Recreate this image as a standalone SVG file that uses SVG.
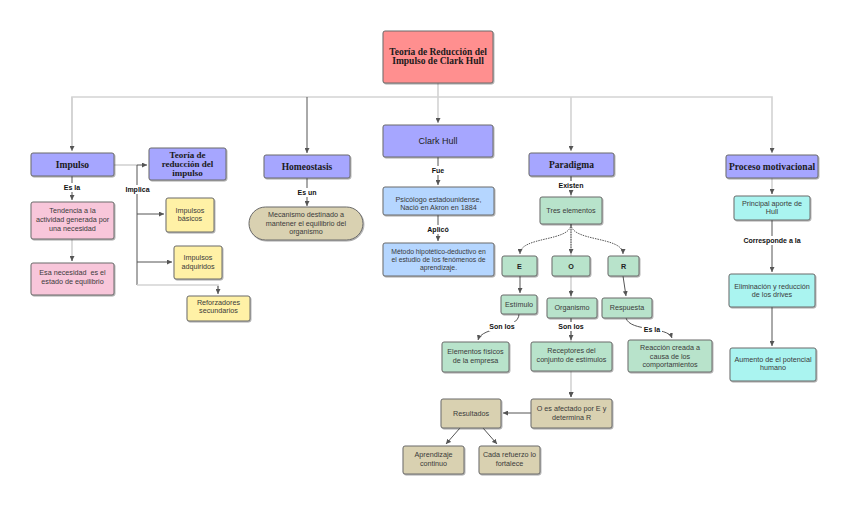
<svg xmlns="http://www.w3.org/2000/svg" width="848" height="515" viewBox="0 0 848 515">
<defs>
<marker id="ar" markerWidth="5" markerHeight="5" refX="5" refY="2.5" orient="auto" markerUnits="userSpaceOnUse">
<path d="M0,0 L5,2.5 L0,5 z" fill="#555"/>
</marker>
<filter id="sh" x="-10%" y="-10%" width="130%" height="140%">
<feDropShadow dx="0.8" dy="1" stdDeviation="0.7" flood-color="#000" flood-opacity="0.35"/>
</filter>
</defs>
<style>
.box{stroke:#6a6a6a;stroke-width:1;filter:url(#sh)}
.red{fill:#FF8F8F}.pur{fill:#A6A6FF}.pink{fill:#F8C6DA}.yel{fill:#FFF1A6}
.tan{fill:#D9D1B1}.blue{fill:#B5D6FF}.grn{fill:#B8E3CB}.cyan{fill:#AAF4F0}
.hd{font-family:"Liberation Serif",serif;font-weight:bold;font-size:9px;fill:#1a1a1a;text-anchor:middle}
.ch{font-family:"Liberation Sans",Arial,sans-serif;font-size:9px;fill:#222;text-anchor:middle}
.tx{font-family:"Liberation Sans",Arial,sans-serif;font-size:7.2px;fill:#3a3a3a;text-anchor:middle}
.bl{font-family:"Liberation Sans",Arial,sans-serif;font-size:7.2px;font-weight:bold;fill:#222;text-anchor:middle}
.lb{font-family:"Liberation Sans",Arial,sans-serif;font-size:7px;font-weight:bold;fill:#111;text-anchor:middle}
.lt{fill:none;stroke:#d3d3d3;stroke-width:1.6}
.dk{fill:none;stroke:#555;stroke-width:1}
.dt{fill:none;stroke:#555;stroke-width:1;stroke-dasharray:1.5,1}
.lbg{fill:#fff}
</style>

<g id="connectors">
<path class="lt" d="M72,151 V97 H772 V153" marker-end="url(#ar)"/>
<path class="lt" d="M72,97 V151" marker-end="url(#ar)"/>
<path class="lt" d="M438,83 V123" marker-end="url(#ar)"/>
<path class="lt" d="M571,97 V151" marker-end="url(#ar)"/>
<path class="lt" d="M571,176 V397" marker-end="url(#ar)"/>
<path class="dk" d="M307,97 V153" marker-end="url(#ar)"/>
<path class="lt" d="M114,165 H137"/>
<path class="dk" d="M137,165 H147" marker-end="url(#ar)"/>
<path class="dk" d="M72,176 V200" marker-end="url(#ar)"/>
<path class="lt" d="M72,239 V261"/>
<path class="dk" d="M72,256 V261" marker-end="url(#ar)"/>
<path class="dk" d="M137,165 V285"/>
<path class="dk" d="M137,214 H164" marker-end="url(#ar)"/>
<path class="dk" d="M137,262 H172" marker-end="url(#ar)"/>
<path class="lt" d="M137,285 H218 V290"/>
<path class="dk" d="M218,286 V294" marker-end="url(#ar)"/>
<path class="dk" d="M307,178 V206" marker-end="url(#ar)"/>
<path class="dk" d="M438,157 V185" marker-end="url(#ar)"/>
<path class="dk" d="M438,215 V241" marker-end="url(#ar)"/>
<path class="dk" d="M571,176 V195" marker-end="url(#ar)"/>
<path class="dt" d="M571,224 C571,242 520,236 520,254" marker-end="url(#ar)"/>
<path class="dt" d="M571,224 V254" marker-end="url(#ar)"/>
<path class="dt" d="M571,224 C571,242 623,236 623,254" marker-end="url(#ar)"/>
<path class="dk" d="M520,276 V293" marker-end="url(#ar)"/>
<path class="dk" d="M571,290 V296" marker-end="url(#ar)"/>
<path class="dk" d="M623,276 L626,296" marker-end="url(#ar)"/>
<path class="dk" d="M519,314 C519,330 482,326 478,340" marker-end="url(#ar)"/>
<path class="dk" d="M571,318 V340" marker-end="url(#ar)"/>
<path class="dk" d="M626,318 C630,332 668,326 672,338" marker-end="url(#ar)"/>
<path class="dk" d="M571,392 V397" marker-end="url(#ar)"/>
<path class="dk" d="M531,413 H503" marker-end="url(#ar)"/>
<path class="dk" d="M460,428 L446,444" marker-end="url(#ar)"/>
<path class="dk" d="M483,428 L497,444" marker-end="url(#ar)"/>
<path class="lt" d="M772,178 V194"/>
<path class="dk" d="M772,189 V194" marker-end="url(#ar)"/>
<path class="dk" d="M772,220 V272" marker-end="url(#ar)"/>
<path class="dk" d="M772,307 V346" marker-end="url(#ar)"/>
</g>

<g id="labels">
<rect class="lbg" x="62" y="183" width="20" height="9"/><text class="lb" x="72" y="190">Es la</text>
<rect class="lbg" x="124" y="185" width="27" height="9"/><text class="lb" x="137.5" y="191.5">Implica</text>
<rect class="lbg" x="296" y="188" width="22" height="9"/><text class="lb" x="307" y="195">Es un</text>
<rect class="lbg" x="430" y="166" width="16" height="9"/><text class="lb" x="438" y="172.5">Fue</text>
<rect class="lbg" x="427" y="225" width="22" height="9"/><text class="lb" x="438" y="231.8">Aplicó</text>
<rect class="lbg" x="557" y="181" width="28" height="9"/><text class="lb" x="571" y="187.5">Existen</text>
<rect class="lbg" x="489" y="322" width="26" height="9"/><text class="lb" x="502" y="329.2">Son los</text>
<rect class="lbg" x="558" y="322" width="26" height="9"/><text class="lb" x="571" y="329.2">Son los</text>
<rect class="lbg" x="642" y="325" width="20" height="9"/><text class="lb" x="652" y="331.5">Es la</text>
<rect class="lbg" x="741" y="236" width="62" height="9"/><text class="lb" x="772" y="243.2">Corresponde a la</text>
</g>

<g id="n-title"><rect class="box red" x="383" y="31" width="110" height="52" rx="2"/>
<text class="hd" style="font-size:9.5px" x="438" y="55.3">Teoría de Reducción del</text>
<text class="hd" style="font-size:9.5px" x="438" y="64">Impulso de Clark Hull</text></g>

<g id="n-impulso"><rect class="box pur" x="31" y="153" width="83" height="23" rx="2"/>
<text class="hd" style="font-size:9.5px" x="72.5" y="167.5">Impulso</text></g>

<g id="n-teoria"><rect class="box pur" x="149" y="148" width="77" height="32" rx="2"/>
<text class="hd" x="187.5" y="158">Teoría de</text>
<text class="hd" x="187.5" y="167">reducción del</text>
<text class="hd" x="187.5" y="175.5">impulso</text></g>

<g id="n-tendencia"><rect class="box pink" x="31" y="202" width="83" height="37" rx="2"/>
<text class="tx" x="72.5" y="213.3">Tendencia a la</text>
<text class="tx" x="72.5" y="222">actividad generada por</text>
<text class="tx" x="72.5" y="230.7">una necesidad</text></g>

<g id="n-esa"><rect class="box pink" x="31" y="263" width="83" height="32" rx="2"/>
<text class="tx" x="72.5" y="275" xml:space="preserve">Esa necesidad  es el</text>
<text class="tx" x="72.5" y="284.3">estado de equilibrio</text></g>

<g id="n-basicos"><rect class="box yel" x="166" y="198" width="48" height="34" rx="2"/>
<text class="tx" x="190" y="212.6">Impulsos</text>
<text class="tx" x="190" y="221">básicos</text></g>

<g id="n-adquiridos"><rect class="box yel" x="174" y="246" width="48" height="33" rx="2"/>
<text class="tx" x="198" y="260">Impulsos</text>
<text class="tx" x="198" y="268.6">adquiridos</text></g>

<g id="n-reforzadores"><rect class="box yel" x="187" y="296" width="63" height="25" rx="2"/>
<text class="tx" x="218.5" y="305">Reforzadores</text>
<text class="tx" x="218.5" y="313.3">secundarios</text></g>

<g id="n-homeostasis"><rect class="box pur" x="264" y="155" width="86" height="23" rx="2"/>
<text class="hd" style="font-size:9.5px" x="307" y="169.5">Homeostasis</text></g>

<g id="n-mecanismo"><rect class="box tan" x="249" y="207" width="114" height="33" rx="16.5"/>
<text class="tx" x="306" y="217.3">Mecanismo destinado a</text>
<text class="tx" x="306" y="225.7">mantener el equilibrio del</text>
<text class="tx" x="306" y="234">organismo</text></g>

<g id="n-clark"><rect class="box pur" x="383" y="125" width="110" height="32" rx="2"/>
<text class="ch" x="438" y="144">Clark Hull</text></g>

<g id="n-psicologo"><rect class="box blue" x="383" y="187" width="111" height="28" rx="2"/>
<text class="tx" x="438.5" y="201.6">Psicólogo estadounidense,</text>
<text class="tx" x="438.5" y="209.5">Nació en Akron en 1884</text></g>

<g id="n-metodo"><rect class="box blue" x="383" y="243" width="111" height="33" rx="2"/>
<text class="tx" style="font-size:6.8px" x="438.5" y="254.3">Método hipotético-deductivo en</text>
<text class="tx" style="font-size:6.8px" x="438.5" y="262.3">el estudio de los fenómenos de</text>
<text class="tx" style="font-size:6.8px" x="438.5" y="270.3">aprendizaje.</text></g>

<g id="n-paradigma"><rect class="box pur" x="529" y="153" width="85" height="23" rx="2"/>
<text class="hd" style="font-size:9.5px" x="571.5" y="167.5">Paradigma</text></g>

<g id="n-tres"><rect class="box grn" x="540" y="197" width="62" height="27" rx="2"/>
<text class="tx" x="571" y="213">Tres elementos</text></g>

<g id="n-e"><rect class="box grn" x="502" y="256" width="35" height="20" rx="2"/>
<text class="bl" x="519.5" y="268.5">E</text></g>
<g id="n-o"><rect class="box grn" x="552" y="256" width="38" height="20" rx="2"/>
<text class="bl" x="571" y="268.5">O</text></g>
<g id="n-r"><rect class="box grn" x="608" y="256" width="31" height="20" rx="2"/>
<text class="bl" x="623.5" y="268.5">R</text></g>

<g id="n-estimulo"><rect class="box grn" x="501" y="295" width="36" height="19" rx="2"/>
<text class="tx" x="519" y="306.6">Estímulo</text></g>
<g id="n-organismo"><rect class="box grn" x="547" y="298" width="50" height="20" rx="2"/>
<text class="tx" x="572" y="310">Organismo</text></g>
<g id="n-respuesta"><rect class="box grn" x="602" y="298" width="50" height="20" rx="2"/>
<text class="tx" x="627" y="310">Respuesta</text></g>

<g id="n-elementos"><rect class="box grn" x="442" y="342" width="67" height="30" rx="2"/>
<text class="tx" x="475.5" y="354.3">Elementos físicos</text>
<text class="tx" x="475.5" y="362.6">de la empresa</text></g>

<g id="n-receptores"><rect class="box grn" x="531" y="342" width="81" height="29" rx="2"/>
<text class="tx" x="571.5" y="353.3">Receptores del</text>
<text class="tx" x="571.5" y="362">conjunto de estímulos</text></g>

<g id="n-reaccion"><rect class="box grn" x="628" y="340" width="84" height="32" rx="2"/>
<text class="tx" x="670" y="349.8">Reacción creada a</text>
<text class="tx" x="670" y="358.6">causa de los</text>
<text class="tx" x="670" y="367.4">comportamientos</text></g>

<g id="n-oafectado"><rect class="box tan" x="531" y="399" width="81" height="29" rx="2"/>
<text class="tx" x="571.5" y="411">O es afectado por E y</text>
<text class="tx" x="571.5" y="419.6">determina R</text></g>

<g id="n-resultados"><rect class="box tan" x="441" y="399" width="60" height="29" rx="2"/>
<text class="tx" x="471" y="416">Resultados</text></g>

<g id="n-aprendizaje"><rect class="box tan" x="403" y="446" width="61" height="28" rx="2"/>
<text class="tx" x="433.5" y="457">Aprendizaje</text>
<text class="tx" x="433.5" y="466.3">continuo</text></g>

<g id="n-cada"><rect class="box tan" x="479" y="446" width="61" height="28" rx="2"/>
<text class="tx" x="509.5" y="457">Cada refuerzo lo</text>
<text class="tx" x="509.5" y="466.3">fortalece</text></g>

<g id="n-proceso"><rect class="box pur" x="726" y="155" width="92" height="23" rx="2"/>
<text class="hd" style="font-size:9.5px" x="772" y="169.5">Proceso motivacional</text></g>

<g id="n-principal"><rect class="box cyan" x="734" y="196" width="76" height="24" rx="2"/>
<text class="tx" x="772" y="206">Principal aporte de</text>
<text class="tx" x="772" y="214.3">Hull</text></g>

<g id="n-eliminacion"><rect class="box cyan" x="729" y="274" width="86" height="33" rx="2"/>
<text class="tx" x="772" y="288.6">Eliminación y reducción</text>
<text class="tx" x="772" y="297">de los drives</text></g>

<g id="n-aumento"><rect class="box cyan" x="730" y="348" width="86" height="33" rx="2"/>
<text class="tx" x="773" y="362">Aumento de el potencial</text>
<text class="tx" x="773" y="370.3">humano</text></g>
</svg>
